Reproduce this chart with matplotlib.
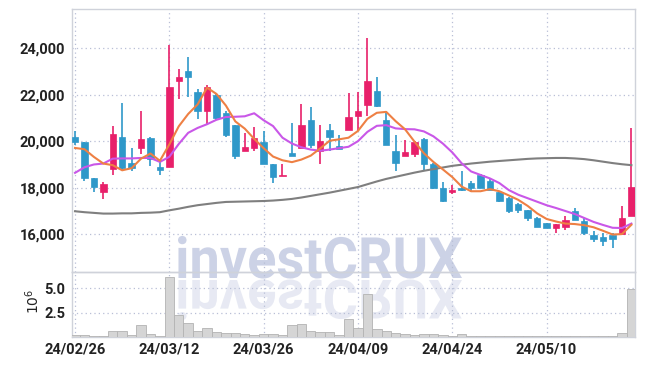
import matplotlib
matplotlib.use("Agg")
import matplotlib.pyplot as plt
import numpy as np
from matplotlib import font_manager
from matplotlib.textpath import TextPath
from matplotlib.patches import PathPatch
from matplotlib.transforms import Affine2D
from matplotlib.ticker import FuncFormatter, FixedLocator

# ---------------- data ----------------
dates = ["24/02/26", "24/02/27", "24/02/28", "24/02/29", "24/03/04", "24/03/05", "24/03/06",
         "24/03/07", "24/03/08", "24/03/11", "24/03/12", "24/03/13", "24/03/14", "24/03/15",
         "24/03/18", "24/03/19", "24/03/20", "24/03/21", "24/03/22", "24/03/25", "24/03/26",
         "24/03/27", "24/03/28", "24/03/29", "24/04/01", "24/04/02", "24/04/03", "24/04/04",
         "24/04/05", "24/04/08", "24/04/09", "24/04/11", "24/04/12", "24/04/15", "24/04/16",
         "24/04/17", "24/04/18", "24/04/19", "24/04/22", "24/04/23", "24/04/24", "24/04/25",
         "24/04/26", "24/04/29", "24/04/30", "24/05/02", "24/05/03", "24/05/07", "24/05/08",
         "24/05/09", "24/05/10", "24/05/13", "24/05/14", "24/05/16", "24/05/17", "24/05/20",
         "24/05/21", "24/05/22", "24/05/23", "24/05/24"]

opens = [20200, 19950, 18400, 17800, 18800, 20200, 19050, 19700, 20150, 18900,
         18900, 22600, 23000, 22100, 21300, 22000, 21200, 20700, 19600, 19700,
         19950, 19000, 18500, 19500, 19700, 20900, 19600, 20500, 19800, 20500,
         21100, 21550, 22150, 20900, 19600, 19350, 19450, 20100, 19000, 18000,
         17800, 18000, 18200, 18550, 18300, 17800, 17550, 17300, 17050, 16700,
         16500, 16250, 16300, 17000, 16550, 15950, 15900, 15950, 16000, 16800]
highs = [20450, 19950, 18400, 18250, 20650, 21650, 19700, 21300, 20200, 19100,
         24150, 23100, 23600, 22250, 22400, 22050, 21300, 20700, 20350, 20600,
         20450, 19000, 19000, 20800, 21600, 21450, 20700, 20750, 20250, 22050,
         22100, 24450, 22750, 21200, 20250, 20050, 20000, 20150, 19050, 18250,
         18100, 18700, 18300, 18600, 18400, 17800, 17600, 17350, 17050, 16750,
         16500, 16450, 16800, 17150, 16700, 16150, 16050, 16050, 17200, 20550]
lows = [19850, 18300, 17800, 17500, 18550, 18750, 18700, 19450, 18950, 18550,
        18900, 21800, 21900, 20950, 20750, 20900, 20200, 19250, 19600, 19600,
        19000, 18200, 18500, 19350, 19700, 19700, 19000, 19600, 19650, 20500,
        20450, 21100, 21450, 19850, 18700, 19350, 19300, 18700, 17950, 17400,
        17750, 17850, 17800, 18000, 17900, 17400, 16900, 16900, 16550, 16300,
        16250, 16050, 16200, 16600, 15950, 15650, 15500, 15400, 16000, 16800]
closes = [19950, 18400, 18050, 18150, 20300, 18850, 18850, 20100, 19250, 18750,
          22350, 22750, 22750, 21300, 22350, 21000, 20250, 19350, 19750, 20150,
          19000, 18450, 18550, 19350, 20700, 19850, 20000, 20200, 19650, 21050,
          21300, 22600, 21500, 19850, 19050, 19550, 19950, 19000, 18000, 17450,
          17900, 17900, 18000, 18000, 17900, 17450, 17000, 17050, 16700, 16300,
          16250, 16450, 16600, 16600, 16050, 15800, 15700, 15800, 16700, 18050]

ma5 = [19710, 19655, 19325, 19040, 18970, 18750, 18840, 19250, 19470, 19160,
       19860, 20640, 21170, 21580, 22300, 22030, 21530, 20850, 20540, 20100,
       19700, 19340, 19180, 19100, 19210, 19380, 19690, 20020, 20080, 20150,
       20440, 20960, 21220, 21260, 20860, 20510, 19980, 19480, 19110, 18790,
       18460, 18050, 17850, 17850, 17940, 17850, 17670, 17480, 17220, 16900,
       16660, 16550, 16460, 16440, 16390, 16300, 16150, 15990, 16010, 16410]
ma20 = [18640, 18880, 19000, 19040, 19250, 19260, 19260, 19280, 19280, 19110,
        19330, 19880, 20360, 20570, 20730, 20920, 21040, 21050, 21070, 21200,
        20900, 20650, 20150, 19900, 19740, 19640, 19590, 19640, 19700, 19760,
        20000, 20400, 20660, 20690, 20550, 20520, 20510, 20420, 20210, 19900,
        19520, 19050, 18700, 18550, 18400, 18200, 17900, 17700, 17550, 17400,
        17250, 17130, 17000, 16870, 16700, 16530, 16400, 16280, 16270, 16460]
ma60 = [16990, 16950, 16920, 16890, 16890, 16900, 16900, 16920, 16930, 16950,
        17030, 17100, 17180, 17250, 17300, 17350, 17390, 17400, 17410, 17420,
        17430, 17450, 17480, 17520, 17580, 17650, 17720, 17790, 17870, 17950,
        18030, 18150, 18270, 18380, 18470, 18560, 18650, 18730, 18800, 18870,
        18940, 18990, 19040, 19080, 19120, 19150, 19180, 19210, 19240, 19260,
        19270, 19280, 19280, 19260, 19230, 19180, 19120, 19060, 19010, 18970]

volume_m = [0.17, 0.25, 0.14, 0.14, 0.66, 0.66, 0.24, 1.28, 0.35, 0.14,
            6.15, 2.22, 1.46, 0.66, 0.94, 0.55, 0.42, 0.42, 0.31, 0.21,
            0.31, 0.31, 0.21, 1.28, 1.39, 0.66, 0.55, 0.55, 0.21, 1.87,
            0.94, 4.48, 0.83, 0.59, 0.42, 0.31, 0.24, 0.31, 0.31, 0.21,
            0.14, 0.31, 0.12, 0.12, 0.12, 0.11, 0.11, 0.11, 0.11, 0.11,
            0.11, 0.11, 0.11, 0.11, 0.11, 0.11, 0.11, 0.12, 0.42, 4.93]

price_ticks = [16000, 18000, 20000, 22000, 24000]
vol_ticks = [2.5, 5.0]
label_every = 10

# ---------------- style ----------------
def has_font(name):
    try:
        font_manager.findfont(font_manager.FontProperties(family=name), fallback_to_default=False)
        return True
    except Exception:
        return False

tick_family = [f for f in ["Liberation Sans Narrow", "Roboto", "DejaVu Sans"] if has_font(f)] or ["DejaVu Sans"]
wm_family = "Roboto" if has_font("Roboto") else "DejaVu Sans"

RED = "#e8206a"
BLUE = "#2f98c9"
ORANGE = "#ee8044"
PURPLE = "#c957e8"
GREY = "#7f7f7f"
GRID = "#b8bfd6"
SPINE = "#cfd2da"
TXT = "#222222"

W, H = 645, 366
fig = plt.figure(figsize=(W / 100, H / 100), dpi=100)
fig.patch.set_facecolor("white")

ax = fig.add_axes([72 / W, 94 / H, 563 / W, 263 / H])
axv = fig.add_axes([72 / W, 29 / H, 563 / W, 65 / H], sharex=ax)
for a in (ax, axv):
    a.set_facecolor("none")
    for s in a.spines.values():
        s.set_color(SPINE)
        s.set_linewidth(1.0)
    a.grid(True, linestyle=(0, (1, 2.5)), color=GRID, linewidth=0.9)
    a.set_axisbelow(True)
    a.tick_params(length=0, colors=TXT, pad=5)

x = np.arange(len(dates))
o = np.array(opens); c = np.array(closes)
hi = np.array(highs); lo = np.array(lows)
up = c >= o
cols = np.where(up, RED, BLUE)
body_bottom = np.minimum(o, c)
body_h = np.maximum(np.abs(c - o), 60)

ax.vlines(x, lo, hi, colors=cols, linewidth=1.2, zorder=3)
ax.bar(x, body_h, bottom=body_bottom, width=0.68, color=cols, edgecolor=cols,
       linewidth=0.5, zorder=4)

ax.plot(x, ma60, color=GREY, linewidth=1.5, zorder=5)
ax.plot(x, ma20, color=PURPLE, linewidth=1.5, zorder=5)
ax.plot(x, ma5, color=ORANGE, linewidth=1.5, zorder=5)

ax.set_xlim(-0.32, len(dates) - 1 + 0.38)
ax.set_ylim(14380, 25680)
ax.yaxis.set_major_locator(FixedLocator(price_ticks))
ax.yaxis.set_major_formatter(FuncFormatter(lambda v, p: f"{v:,.0f}"))
tick_idx = list(range(0, len(dates), label_every))
ax.xaxis.set_major_locator(FixedLocator(tick_idx))
plt.setp(ax.get_xticklabels(), visible=False)

axv.bar(x, volume_m, width=1.0, color="#d5d5d5", edgecolor="#b3b3b3", linewidth=0.6, zorder=3)
axv.set_ylim(0, 6.7)
axv.yaxis.set_major_locator(FixedLocator(vol_ticks))
axv.yaxis.set_major_formatter(FuncFormatter(lambda v, p: f"{v:.1f}"))
axv.set_xticks(tick_idx)
axv.set_xticklabels([dates[i] for i in tick_idx])

for a in (ax, axv):
    for lab in a.get_xticklabels() + a.get_yticklabels():
        lab.set_family(tick_family)
        lab.set_fontweight("bold")
        lab.set_fontsize(10.5)
        lab.set_color(TXT)
axv.tick_params(axis="x", pad=4)

fig.text(33 / W, (H - 301) / H, r"$10^{6}$", rotation=90, ha="center", va="center",
         fontsize=10, color=TXT)

# ---------------- watermark with reflection ----------------
fp = font_manager.FontProperties(family=wm_family, weight="bold")
tp = TextPath((0, 0), "investCRUX", size=57, prop=fp)
bb = tp.get_extents()
target_w = 284.0
sx = target_w / bb.width
x0, base = 178.0, H - 278.0
to_fig = Affine2D().scale(1 / W, 1 / H) + fig.transFigure
main_tr = Affine2D().translate(-bb.x0, 0).scale(sx, 1.0).translate(x0, base) + to_fig
refl_tr = Affine2D().translate(-bb.x0, 0).scale(sx, -0.95).translate(x0, base - 2) + to_fig
fig.patches.append(PathPatch(tp, transform=main_tr, facecolor="#cad0e5", edgecolor="none",
                             zorder=-1, alpha=0.95))
fig.patches.append(PathPatch(tp, transform=refl_tr, facecolor="#cad0e5", edgecolor="none",
                             zorder=-1, alpha=0.45))

fig.savefig("out.png", dpi=100, facecolor="white")
